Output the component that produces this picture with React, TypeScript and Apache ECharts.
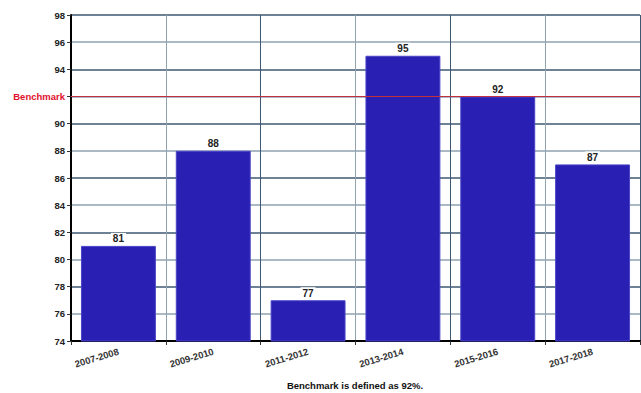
import React, { useEffect, useRef } from "react";
import * as echarts from "echarts";

const categories = ["2007-2008", "2009-2010", "2011-2012", "2013-2014", "2015-2016", "2017-2018"];
const values = [81, 88, 77, 95, 92, 87];
const benchmark = 92;
const yMin = 74;
const yMax = 98;
const yStep = 2;
const footnote = "Benchmark is defined as 92%.";

export default function App() {
  const ref = useRef<HTMLDivElement>(null);
  useEffect(() => {
    const chart = echarts.init(ref.current!, null, { renderer: "svg" });
    const font = "'Liberation Sans', Arial, sans-serif";
    const fs = 9.5;
    chart.setOption({
      animation: false,
      grid: { left: 71, right: 1, top: 15, bottom: 52 },
      xAxis: {
        type: "category",
        data: categories,
        axisLine: { lineStyle: { color: "#000", width: 2 } },
        axisTick: { show: true, length: 4, lineStyle: { color: "#333" } },
        axisLabel: { rotate: 17, fontFamily: font, fontWeight: "bold", fontSize: fs, color: "#333", margin: 10 },
        splitLine: { show: true, lineStyle: { color: ["#3d5870", "#8ea2b0"], width: 1 } },
      },
      yAxis: {
        type: "value",
        min: yMin,
        max: yMax,
        interval: yStep,
        axisLine: { show: true, lineStyle: { color: "#000", width: 2 } },
        axisTick: { show: true, length: 4, lineStyle: { color: "#333" } },
        axisLabel: {
          fontFamily: font,
          fontWeight: "bold",
          fontSize: fs,
          color: "#222",
          margin: 6,
          formatter: (v: number) => (v === benchmark ? "{b|Benchmark}" : String(v)),
          rich: { b: { color: "#e0102a", fontWeight: "bold", fontSize: fs, fontFamily: font } },
        },
        splitLine: { show: true, lineStyle: { color: ["#3d5870", "#8ea2b0"], width: 1.5 } },
      },
      series: [
        {
          type: "bar",
          data: values,
          barCategoryGap: "21%",
          itemStyle: { color: "#2a1fb3", borderColor: "#4a44c8", borderWidth: 1 },
          label: {
            show: true,
            position: "top",
            distance: 2,
            fontFamily: font,
            fontWeight: "bold",
            fontSize: 10,
            color: "#222",
            backgroundColor: "#fff",
            padding: [1, 2, 0, 2],
          },
          markLine: {
            silent: true,
            symbol: "none",
            label: { show: false },
            lineStyle: { color: "#c3303f", type: "solid", width: 1 },
            data: [{ yAxis: benchmark }],
          },
        },
      ],
      graphic: [
        {
          type: "text",
          x: 355,
          y: 385,
          style: {
            text: footnote,
            fontFamily: font,
            fontWeight: "bold",
            fontSize: fs,
            fill: "#111",
            align: "center",
            verticalAlign: "middle",
          },
        },
      ],
    });
    return () => chart.dispose();
  }, []);
  return <div ref={ref} style={{ width: 641, height: 393, position: "absolute", left: 0, top: 0 }} />;
}
